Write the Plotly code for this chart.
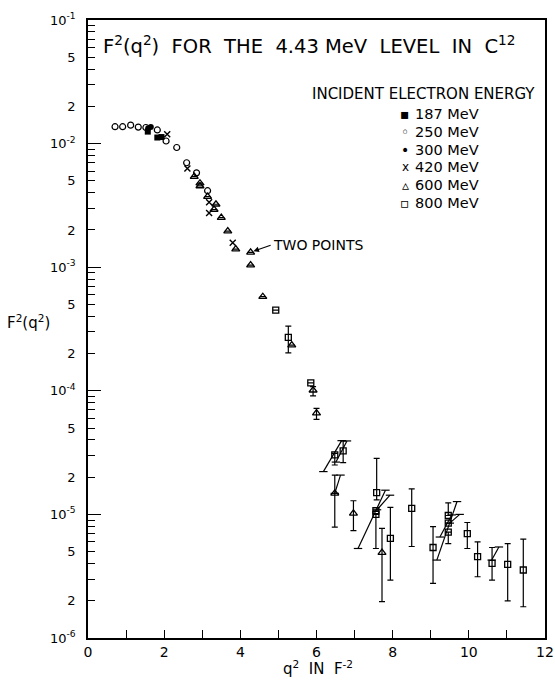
import plotly.graph_objects as go

# ---------------- data ----------------
# 187 MeV (filled squares)
q2_187 = [1.57, 1.82, 1.93]
f2_187 = [1.25e-2, 1.12e-2, 1.13e-2]

# 250 MeV (open circles)
q2_250 = [0.71, 0.91, 1.12, 1.32, 1.52, 1.82, 2.05, 2.33, 2.59, 2.85, 3.14]
f2_250 = [1.37e-2, 1.37e-2, 1.41e-2, 1.36e-2, 1.35e-2, 1.29e-2, 1.05e-2,
          9.3e-3, 7.0e-3, 5.8e-3, 4.16e-3]

# 300 MeV (filled circles)
q2_300 = [1.58, 1.65]
f2_300 = [1.33e-2, 1.36e-2]

# 420 MeV (crosses)
q2_420 = [2.08, 2.61, 3.18, 3.18, 3.80]
f2_420 = [1.19e-2, 6.3e-3, 3.35e-3, 2.75e-3, 1.58e-3]

# 600 MeV (open triangles)
q2_600 = [2.79, 2.94, 2.94, 3.14, 3.36, 3.31, 3.50, 3.67, 3.88, 4.27, 4.27,
          4.59, 5.35, 5.91, 6.00, 6.48, 6.97, 7.72]
f2_600 = [5.4e-3, 4.78e-3, 4.54e-3, 3.72e-3, 3.23e-3, 2.93e-3, 2.52e-3,
          1.96e-3, 1.40e-3, 1.32e-3, 1.04e-3, 5.77e-4, 2.34e-4, 1.01e-4,
          6.6e-5, 1.48e-5, 1.02e-5, 4.9e-6]
hi_600 = [None] * 13 + [1.08e-4, 7.2e-5, 2.08e-5, 1.29e-5, 7.7e-6]
lo_600 = [None] * 13 + [9.1e-5, 5.87e-5, 7.9e-6, 7.4e-6, 1.97e-6]

# 800 MeV (open squares)
q2_800 = [4.93, 5.26, 5.85, 6.48, 6.70, 7.58, 7.56, 7.56, 7.94, 8.50, 9.06,
          9.46, 9.46, 9.46, 9.96, 10.23, 10.61, 11.02, 11.43]
f2_800 = [4.5e-4, 2.71e-4, 1.16e-4, 3.03e-5, 3.27e-5, 1.5e-5, 1.07e-5, 1.0e-5,
          6.4e-6, 1.12e-5, 5.4e-6, 9.8e-6, 8.5e-6, 7.2e-6, 7.0e-6, 4.55e-6,
          4.02e-6, 3.94e-6, 3.55e-6]
hi_800 = [None, 3.34e-4, None, 3.12e-5, 3.94e-5, 2.84e-5, None, None, 1.14e-5,
          1.61e-5, 7.96e-6, 1.24e-5, None, None, 8.6e-6, 6.0e-6, 5.4e-6,
          5.8e-6, 6.3e-6]
lo_800 = [None, 2.03e-4, None, 2.51e-5, 2.62e-5, 1.31e-5, None, 5.3e-6,
          2.94e-6, 5.5e-6, 2.77e-6, None, None, 5.8e-6, 5.3e-6, 3.13e-6,
          2.94e-6, 2.0e-6, 1.79e-6]

# slanted range lines
seg_q2_start = [6.18, 6.51, 6.48, 7.09, 7.59, 9.16, 9.24, 9.50, 10.60]
seg_q2_end = [6.66, 6.80, 6.63, 7.81, 7.93, 9.69, 9.55, 9.76, 10.79]
seg_f2_start = [2.22e-5, 2.65e-5, 1.48e-5, 5.3e-6, 1.09e-5, 4.27e-6, 6.56e-6, 8.5e-6, 4.27e-6]
seg_f2_end = [3.95e-5, 3.93e-5, 2.08e-5, 1.57e-5, 1.43e-5, 1.27e-5, 9.9e-6, 1.0e-5, 5.45e-6]

legend_labels = ["187 MeV", "250 MeV", "300 MeV", "420 MeV", "600 MeV", "800 MeV"]
legend_glyphs = ["\u25aa", "\u25e6", "\u2022", "x", "\u25b5", "\u25ab"]

x_major = [0, 2, 4, 6, 8, 10, 12]
x_minor = [1, 3, 5, 7, 9, 11]
decades = [-6, -5, -4, -3, -2, -1]

# ---------------- figure ----------------
FONT = "DejaVu Sans"
BLACK = "black"


def errs(vals, hi, lo):
    up = [(h - v) if h is not None else 0 for v, h in zip(vals, hi)]
    dn = [(v - l) if l is not None else 0 for v, l in zip(vals, lo)]
    return up, dn


fig = go.Figure()

segx, segy = [], []
for a, b, c, d in zip(seg_q2_start, seg_q2_end, seg_f2_start, seg_f2_end):
    segx += [a, b, None]
    segy += [c, d, None]
fig.add_trace(go.Scatter(x=segx, y=segy, mode="lines+markers",
                         line=dict(color=BLACK, width=1.2),
                         marker=dict(symbol="line-ew-open", size=6,
                                     line=dict(color=BLACK, width=1.2)),
                         showlegend=False, hoverinfo="skip"))

up6, dn6 = errs(f2_600, hi_600, lo_600)
up8, dn8 = errs(f2_800, hi_800, lo_800)

common_err = dict(color=BLACK, thickness=1.2, width=3)

fig.add_trace(go.Scatter(x=q2_800, y=f2_800, mode="markers", name="800 MeV",
                         marker=dict(symbol="square-open", size=6, color=BLACK,
                                     line=dict(width=1.3)),
                         error_y=dict(type="data", symmetric=False, array=up8,
                                      arrayminus=dn8, **common_err)))
fig.add_trace(go.Scatter(x=q2_600, y=f2_600, mode="markers", name="600 MeV",
                         marker=dict(symbol="triangle-up-open", size=7, color=BLACK,
                                     line=dict(width=1.3)),
                         error_y=dict(type="data", symmetric=False, array=up6,
                                      arrayminus=dn6, **common_err)))
fig.add_trace(go.Scatter(x=q2_420, y=f2_420, mode="markers", name="420 MeV",
                         marker=dict(symbol="x-thin-open", size=6, color=BLACK,
                                     line=dict(width=1.4, color=BLACK))))
fig.add_trace(go.Scatter(x=q2_250, y=f2_250, mode="markers", name="250 MeV",
                         marker=dict(symbol="circle-open", size=6, color=BLACK,
                                     line=dict(width=1.2))))
fig.add_trace(go.Scatter(x=q2_300, y=f2_300, mode="markers", name="300 MeV",
                         marker=dict(symbol="circle", size=6, color=BLACK)))
fig.add_trace(go.Scatter(x=q2_187, y=f2_187, mode="markers", name="187 MeV",
                         marker=dict(symbol="square", size=6, color=BLACK)))

# overlay axis for long decade ticks
fig.add_trace(go.Scatter(x=[6], y=[1e-3], yaxis="y2", mode="markers",
                         marker=dict(opacity=0), showlegend=False, hoverinfo="skip"))

y_tickvals, y_ticktext = [], []
for d in decades:
    y_tickvals.append(10.0 ** d)
    y_ticktext.append("10<sup>%d</sup>" % d)
    if d < -1:
        y_tickvals += [2 * 10.0 ** d, 5 * 10.0 ** d]
        y_ticktext += ["2", "5"]
minor_vals = [m * 10.0 ** d for d in decades[:-1] for m in (3, 4, 6, 7, 8, 9)]

fig.update_layout(
    width=555, height=682,
    margin=dict(l=88, r=10, t=20, b=44, autoexpand=False),
    paper_bgcolor="white", plot_bgcolor="white",
    showlegend=False,
    font=dict(family=FONT, color=BLACK, size=13),
    xaxis=dict(range=[0, 12], tickvals=x_major, ticktext=[str(v) for v in x_major],
               ticks="inside", ticklen=8, tickwidth=1.2, tickcolor=BLACK,
               minor=dict(tickvals=x_minor, ticks="inside", ticklen=8,
                          tickwidth=1.2, tickcolor=BLACK, showgrid=False),
               showline=True, linecolor=BLACK, linewidth=1.5, mirror=True,
               showgrid=False, zeroline=False,
               tickfont=dict(size=14, family=FONT)),
    yaxis=dict(type="log", range=[-6, -1], tickvals=y_tickvals, ticktext=y_ticktext,
               ticks="inside", ticklen=7, tickwidth=1.2, tickcolor=BLACK,
               minor=dict(tickvals=minor_vals, ticks="inside", ticklen=7,
                          tickwidth=1.2, tickcolor=BLACK, showgrid=False),
               showline=True, linecolor=BLACK, linewidth=1.5, mirror=True,
               showgrid=False, zeroline=False, ticklabelstandoff=8,
               tickfont=dict(size=13, family=FONT)),
    yaxis2=dict(type="log", range=[-6, -1], overlaying="y", side="left",
                tickvals=[10.0 ** d for d in decades], ticks="inside", ticklen=13,
                tickwidth=1.2, tickcolor=BLACK, showticklabels=False,
                showgrid=False, showline=False, zeroline=False),
)

ann = []
ann.append(dict(text="F<sup>2</sup>(q<sup>2</sup>)  FOR  THE  4.43 MeV  LEVEL  IN  C<sup>12</sup>",
                xref="paper", yref="paper", x=0.028, y=0.96, xanchor="left",
                yanchor="middle", showarrow=False, font=dict(size=19.5)))
ann.append(dict(text="INCIDENT ELECTRON ENERGY", xref="paper", yref="paper",
                x=0.9825, y=1 - (94 - 20) / 618, xanchor="right", yanchor="middle",
                showarrow=False, font=dict(size=15)))
for i, (g, lab) in enumerate(zip(legend_glyphs, legend_labels)):
    ypx = 114 + i * 17.8
    yp = 1 - (ypx - 20) / 618
    ann.append(dict(text=g, xref="paper", yref="paper", x=0.6937, y=yp,
                    xanchor="center", yanchor="middle", showarrow=False,
                    font=dict(size=12 if g == "x" else 14)))
    ann.append(dict(text=lab, xref="paper", yref="paper", x=0.711, y=yp,
                    xanchor="left", yanchor="middle", showarrow=False,
                    font=dict(size=14.5)))
ann.append(dict(text="TWO POINTS", x=4.27, y=-2.879, xref="x", yref="y",
                ax=20, ay=-7, xanchor="left", yanchor="middle",
                showarrow=True, arrowhead=2, arrowsize=1, arrowwidth=1.1,
                arrowcolor=BLACK, standoff=3, font=dict(size=14)))
ann.append(dict(text="F<sup>2</sup>(q<sup>2</sup>)", xref="paper", yref="paper",
                x=-0.131, y=0.511, xanchor="center", yanchor="middle",
                showarrow=False, font=dict(size=15)))
ann.append(dict(text="q<sup>2</sup>  IN  F<sup>-2</sup>", xref="paper", yref="paper",
                x=0.503, y=-0.0485, xanchor="center", yanchor="middle",
                showarrow=False, font=dict(size=15)))
fig.update_layout(annotations=ann)

fig.write_html("out.html")
